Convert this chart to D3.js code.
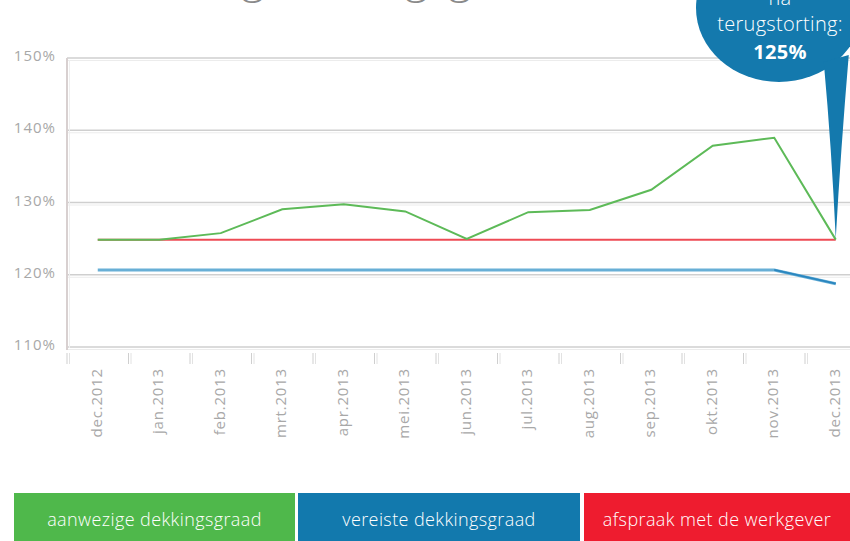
<!DOCTYPE html>
<html lang="nl">
<head>
<meta charset="UTF-8" />
<title>dekkingsgraad</title>
<script src="https://d3js.org/d3.v7.min.js"></script>
<style>
    body { margin: 0; background: #fff; }
    svg { display: block; font-family: "Open Sans", sans-serif; }
    .ylab, .xlab { fill: #a8a8a8; }
</style>
</head>
<body>
<svg id="chart" width="850" height="541"></svg>
<script>
    const months = ["dec.2012", "jan.2013", "feb.2013", "mrt.2013", "apr.2013", "mei.2013",
        "jun.2013", "jul.2013", "aug.2013", "sep.2013", "okt.2013", "nov.2013", "dec.2013"];
    const aanwezig = [125, 125, 125.9, 129.2, 129.9, 128.9, 125.1, 128.8, 129.1, 131.9, 138.0, 139.1, 125.0];
    const vereist = [120.8, 120.8, 120.8, 120.8, 120.8, 120.8, 120.8, 120.8, 120.8, 120.8, 120.8, 120.8, 118.9];
    const afspraak = [125, 125, 125, 125, 125, 125, 125, 125, 125, 125, 125, 125, 125];
    const yTicks = [110, 120, 130, 140, 150];
    const legendLabels = ["aanwezige dekkingsgraad", "vereiste dekkingsgraad", "afspraak met de werkgever"];
    const titleText = "Ontwikkeling dekkingsgraad";

    const svg = d3.select("#chart");
    const left = 67;
    const bandW = 61.5;

    const x = d3.scaleBand().domain(months).range([left, left + bandW * months.length]);
    const y = d3.scaleLinear().domain([110, 150]).range([348, 59]);

    // titel (alleen de onderkant van de g's valt binnen beeld)
    const title = svg.append("text")
        .attr("x", 0).attr("y", -7)
        .attr("fill", "#8a8a8a")
        .attr("font-size", 40).attr("font-weight", 300)
        .text(titleText);
    {
        const n = title.node();
        const gFirst = titleText.indexOf("g");
        const gLast = titleText.lastIndexOf("g");
        const mid = i => n.getSubStringLength(0, i) + n.getSubStringLength(i, 1) / 2;
        const fs = 40 * (460 - 253) / (mid(gLast) - mid(gFirst));
        title.attr("font-size", fs);
        title.attr("x", 460 - mid(gLast));
    }

    // gridlijnen, dubbel getekend
    const grid = svg.append("g");
    yTicks.forEach(t => {
        grid.append("line")
            .attr("x1", left).attr("x2", 850)
            .attr("y1", y(t) - 1).attr("y2", y(t) - 1)
            .attr("stroke", "#cfcfcf").attr("stroke-width", 1.5);
        grid.append("line")
            .attr("x1", left).attr("x2", 850)
            .attr("y1", y(t) + 1.5).attr("y2", y(t) + 1.5)
            .attr("stroke", "#ececec").attr("stroke-width", 1);
    });
    grid.append("line")
        .attr("x1", left).attr("x2", left)
        .attr("y1", y(150) - 1).attr("y2", y(110) + 2)
        .attr("stroke", "#d8d0d0").attr("stroke-width", 2);
    grid.append("line")
        .attr("x1", left + 2.5).attr("x2", left + 2.5)
        .attr("y1", y(150) + 1).attr("y2", y(110))
        .attr("stroke", "#efefef").attr("stroke-width", 1);

    // y-labels
    svg.append("g").selectAll("text").data(yTicks).join("text")
        .attr("class", "ylab")
        .attr("font-size", 15)
        .attr("letter-spacing", 1)
        .attr("x", 56).attr("y", d => y(d) - 2)
        .attr("text-anchor", "end")
        .attr("dominant-baseline", "middle")
        .text(d => d + "%");

    // tick streepjes onder de as
    const tickXs = months.map(m => x(m));
    const ticks = svg.append("g");
    tickXs.forEach(tx => {
        [0, 2.5].forEach(off => {
            ticks.append("line")
                .attr("x1", tx + off).attr("x2", tx + off)
                .attr("y1", 353).attr("y2", 364)
                .attr("stroke", off ? "#e2e2e2" : "#cfcfcf").attr("stroke-width", 1);
        });
    });

    // x-labels
    svg.append("g").selectAll("text").data(months).join("text")
        .attr("class", "xlab")
        .attr("font-size", 15)
        .attr("letter-spacing", 0.8)
        .attr("text-anchor", "end")
        .attr("dominant-baseline", "middle")
        .attr("transform", d => `translate(${x(d) + x.bandwidth() / 2},368) rotate(-90)`)
        .text(d => d);

    const line = d3.line()
        .x((d, i) => x(months[i]) + x.bandwidth() / 2)
        .y(d => y(d));

    svg.append("path").datum(vereist)
        .attr("d", line).attr("fill", "none")
        .attr("stroke", "#68afd6").attr("stroke-width", 3);
    svg.append("path").datum(vereist.slice(11))
        .attr("d", d3.line().x((d, i) => x(months[i + 11]) + x.bandwidth() / 2).y(d => y(d)))
        .attr("fill", "none").attr("stroke", "#2a86bf").attr("stroke-width", 1.8);
    svg.append("path").datum(afspraak)
        .attr("d", line).attr("fill", "none")
        .attr("stroke", "#ee4b55").attr("stroke-width", 2);
    svg.append("path").datum(aanwezig)
        .attr("d", line).attr("fill", "none")
        .attr("stroke", "#5dba58").attr("stroke-width", 2);

    // ballon
    const tipX = x(months[12]) + x.bandwidth() / 2;
    const tipY = y(aanwezig[12]);
    const bubble = svg.append("g");
    bubble.append("ellipse")
        .attr("cx", 779).attr("cy", 8).attr("rx", 83).attr("ry", 74)
        .attr("fill", "#1479ad");
    bubble.append("path")
        .attr("d", `M${tipX - 12},62 Q${tipX - 4},150 ${tipX},${tipY - 1} Q${tipX + 5},150 ${tipX + 13},55 Z`)
        .attr("fill", "#1479ad");
    const bt = [
        { t: "na", y: 5, w: 300 },
        { t: "terugstorting:", y: 31, w: 300 },
        { t: "125%", y: 59, w: 700 }
    ];
    bubble.selectAll("text").data(bt).join("text")
        .attr("x", 780).attr("y", d => d.y)
        .attr("text-anchor", "middle")
        .attr("fill", "#fff")
        .attr("font-size", 20)
        .attr("letter-spacing", 0.3)
        .attr("font-weight", d => d.w)
        .text(d => d.t);

    // legenda
    const legendColors = ["#4fb84b", "#1279ad", "#ee1c2f"];
    const legendX = [14, 298, 584];
    const legendW = [281, 282, 266];
    const lg = svg.append("g");
    legendLabels.forEach((lab, i) => {
        lg.append("rect")
            .attr("x", legendX[i]).attr("y", 493)
            .attr("width", legendW[i]).attr("height", 48)
            .attr("fill", legendColors[i]);
        lg.append("text")
            .attr("x", legendX[i] + legendW[i] / 2).attr("y", 521)
            .attr("text-anchor", "middle")
            .attr("dominant-baseline", "middle")
            .attr("fill", "#fff")
            .attr("font-size", 18)
            .attr("letter-spacing", 0.4)
            .attr("font-weight", 300)
            .text(lab);
    });
</script>
</body>
</html>
